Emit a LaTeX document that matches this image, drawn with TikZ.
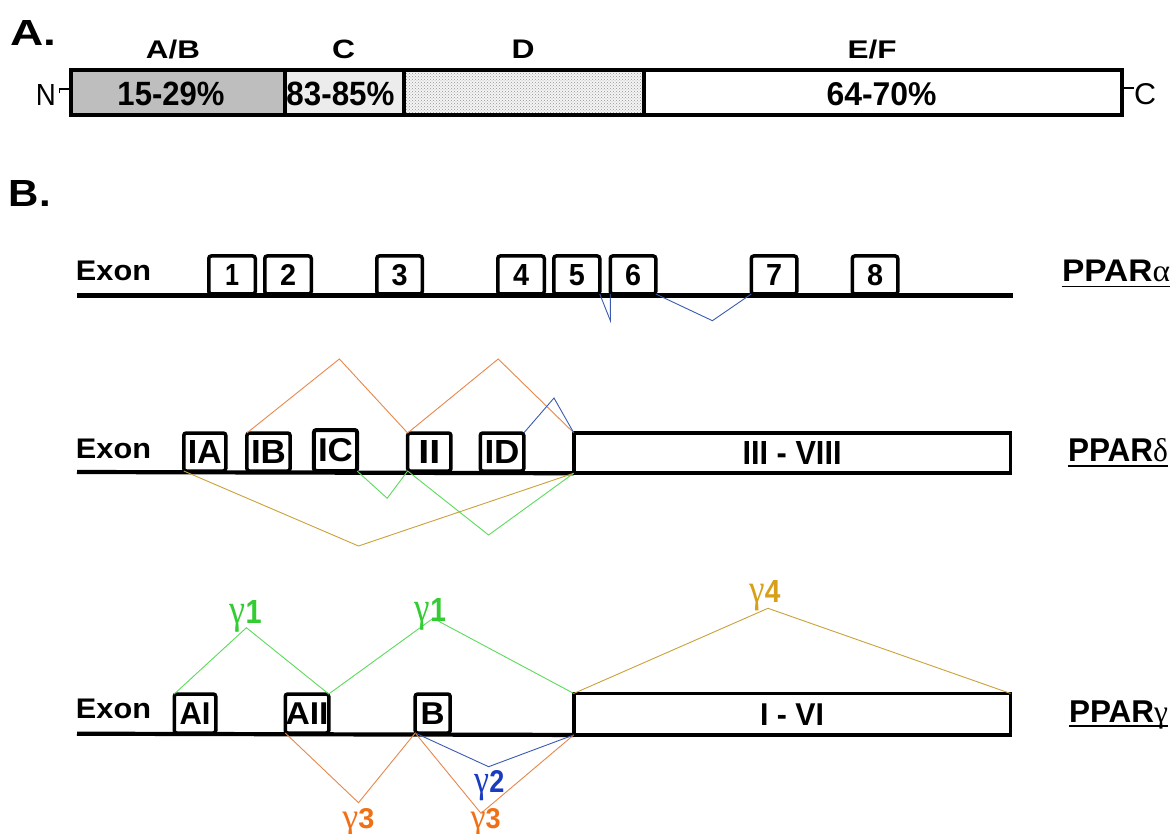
\documentclass[tikz,border=0pt]{standalone}
\usepackage{fontspec}
\setmainfont{Liberation Sans}
\newfontfamily\grk{Liberation Serif}
\usetikzlibrary{patterns}
\newcommand{\tx}[3]{\resizebox{#1pt}{#2pt}{\bfseries #3}}
\newcommand{\txr}[3]{\resizebox{#1pt}{#2pt}{#3}}
\newcommand{\gk}[1]{{\grk\mdseries #1}}
\newcommand{\bgk}[1]{\scalebox{1.25}{\grk\mdseries #1}}
\definecolor{abgray}{HTML}{BEBEBE}
\definecolor{cgray}{HTML}{ECECEC}
\definecolor{sorange}{HTML}{E8874A}
\definecolor{sgreen}{HTML}{5DDB5D}
\definecolor{sblue}{HTML}{3A5BB0}
\definecolor{sgold}{HTML}{C9A23A}
\definecolor{lgreen}{HTML}{33CC33}
\definecolor{lblue}{HTML}{1A3CC0}
\definecolor{lorange}{HTML}{F07015}
\definecolor{lgold}{HTML}{D8A018}
\begin{document}
\begin{tikzpicture}[x=1pt,y=-1pt,
  seg/.style={draw, line width=3.5pt, inner sep=0pt, outer sep=0pt},
  exonbox/.style={draw, line width=3.5pt, rounded corners=2.5pt, inner sep=0pt, outer sep=0pt, fill=white, minimum height=38pt},
  bigbox/.style={draw, line width=3.8pt, inner sep=0pt, outer sep=0pt, fill=white, minimum width=436.75pt},
  txt/.style={inner sep=0pt, outer sep=0pt, anchor=base},
  gene/.style={line width=4.2pt},
  splice/.style={line width=0.9pt, line join=miter},
  uline/.style={line width=1.6pt}]
\fill[white] (0,0) rectangle (1173,834);
\useasboundingbox (0,0) rectangle (1173,834);

% ---------- Part A ----------
\node[txt] (lblA) at (33,46) {\tx{46}{25}{A.}};
\node[seg, fill=abgray, minimum width=214.25pt, minimum height=45pt] (AB) at (177.9,92.75) {};
\node[seg, fill=cgray, minimum width=119pt, minimum height=45pt] (CC) at (344.5,92.75) {};
\node[seg, fill=gray!8, minimum width=240pt, minimum height=45pt] (DD) at (524,92.75) {};
\fill[pattern=crosshatch dots, pattern color=gray!85] (DD.north west) rectangle (DD.south east);
\node[seg, fill=white, minimum width=477.75pt, minimum height=45pt] (EF) at (882.9,92.75) {};
\draw[line width=3.5pt] (AB.north west) rectangle (EF.south east);
\draw[line width=3.5pt] (DD.north west) rectangle (DD.south east);
\draw[line width=2pt] ([yshift=-1pt]AB.south west) -- ([yshift=-1pt]EF.south east);
\node[txt] (tAB) at (173,59) {\tx{54}{18.5}{A/B}};
\node[txt] (tC) at (343.5,59) {\tx{23}{18.5}{C}};
\node[txt] (tD) at (523,59) {\tx{23}{18.5}{D}};
\node[txt] (tEF) at (872,59) {\tx{49}{18.5}{E/F}};
\node[txt] (pAB) at (171,106) {\tx{107}{23.5}{15-29\%}};
\node[txt] (pC) at (340.5,106) {\tx{108}{23.5}{83-85\%}};
\node[txt] (pEF) at (881.6,106) {\tx{110}{23}{64-70\%}};
\node[txt] (nN) at (46,106) {\txr{20}{21}{N}};
\node[txt] (nC) at (1145,105) {\txr{22}{21}{C}};
\coordinate (nt) at (59.5,93.5);
\coordinate (ns) at (59.5,89);
\draw[line width=1.3pt] (nt) -- (ns) -- (ns -| AB.west);
\coordinate (cs) at (1134,88);
\draw[line width=1.3pt] (cs -| EF.east) -- (cs);

% ---------- Part B ----------
\node[txt] (lblB) at (30,207) {\tx{42}{26}{B.}};

% PPAR alpha
\node[txt] (exA) at (113.5,281) {\tx{75}{19.5}{Exon}};
\coordinate (gaL) at (77,295.5);
\coordinate (gaR) at (1013,295.5);
\draw[gene] (gaL) -- (gaR);
\node[exonbox, minimum width=46.5pt] (E1) at (232,275) {\tx{14}{21}{1}};
\node[exonbox, minimum width=46.5pt] (E2) at (288,275) {\tx{16}{21}{2}};
\node[exonbox, minimum width=45.5pt] (E3) at (399.5,275) {\tx{16}{21}{3}};
\node[exonbox, minimum width=46.5pt] (E4) at (521,275) {\tx{16}{21}{4}};
\node[exonbox, minimum width=46pt] (E5) at (576.75,275) {\tx{16}{21}{5}};
\node[exonbox, minimum width=45.5pt] (E6) at (633,275) {\tx{16}{21}{6}};
\node[exonbox, minimum width=45.5pt] (E7) at (774,275) {\tx{16}{21}{7}};
\node[exonbox, minimum width=45.5pt] (E8) at (875,275) {\tx{16}{21}{8}};
\coordinate (va1) at (610.5,321);
\coordinate (va2) at (712.4,320.7);
\draw[splice, sblue] (E5.south east) -- (va1) -- (E6.south west);
\draw[splice, sblue] (E6.south east) -- (va2) -- (E7.south west);
\node[txt, anchor=base west] (pa) at (1062,282) {\tx{108}{21.5}{PPAR\gk{α}}};
\draw[uline] ([yshift=-4.5pt]pa.base west) -- ([yshift=-4.5pt]pa.base east);

% PPAR delta
\node[txt] (exD) at (113.5,458) {\tx{75}{19.5}{Exon}};
\coordinate (gdL) at (77,472);
\node[bigbox, minimum height=40.5pt] (D3) at (792.1,453) {\tx{99}{23}{III - VIII}};
\draw[gene] (gdL) -- (D3.south west);
\node[exonbox, minimum width=42pt] (IA) at (204.75,452) {\tx{34}{23}{IA}};
\node[exonbox, minimum width=43.2pt] (IB) at (268.5,452) {\tx{35}{23}{IB}};
\node[exonbox, minimum width=43.2pt, minimum height=41pt, line width=4pt] (IC) at (335.5,450.5) {\tx{35}{23}{IC}};
\node[exonbox, minimum width=43.3pt] (II) at (429.3,452) {\tx{22}{23}{II}};
\node[exonbox, minimum width=43.5pt] (ID) at (502,452) {\tx{35}{23}{ID}};
\coordinate (pd1) at (339.4,359);
\coordinate (pd2) at (498.2,359);
\coordinate (pd3) at (554,398);
\coordinate (vd1) at (387.2,498.3);
\coordinate (vd2) at (488.6,535);
\coordinate (vd3) at (358.5,546);
\draw[splice, sorange] (IB.north west) -- (pd1) -- (II.north west) -- (pd2) -- (D3.north west);
\draw[splice, sblue] (ID.north east) -- (pd3) -- (D3.north west);
\draw[splice, sgreen] (IC.south east) -- (vd1) -- (II.south west) -- (vd2) -- (D3.south west);
\draw[splice, sgold] (IA.south west) -- (vd3) -- (D3.south west);
\node[txt, anchor=base west] (pd) at (1068,461) {\tx{100}{23}{PPAR\gk{δ}}};
\draw[uline] ([yshift=-5pt]pd.base west) -- ([yshift=-5pt]pd.base east);

% PPAR gamma
\node[txt] (exG) at (113.5,718.5) {\tx{75}{19.5}{Exon}};
\coordinate (ggL) at (77,733.7);
\node[bigbox, minimum height=41.5pt] (G3) at (792.1,714.2) {\tx{64}{21.7}{I - VI}};
\draw[gene] (ggL) -- (G3.south west);
\node[exonbox, minimum width=41.5pt, minimum height=39pt] (AI) at (195,713.5) {\tx{31}{21.7}{AI}};
\node[exonbox, minimum width=43.5pt, minimum height=39pt] (AII) at (307,713.5) {\tx{43}{21.7}{AII}};
\node[exonbox, minimum width=35pt, minimum height=39pt] (BB) at (432.7,713.5) {\tx{24}{21.7}{B}};
\coordinate (pg1) at (246.4,627.7);
\coordinate (pg2) at (433.1,618.3);
\coordinate (pg4) at (768,608.3);
\coordinate (vg3a) at (358.5,802.7);
\coordinate (vg3b) at (481,813.3);
\coordinate (vg2) at (488.6,766.7);
\draw[splice, sgreen] (AI.north west) -- (pg1) -- (AII.north east) -- (pg2) -- (G3.north west);
\draw[splice, sgold] (G3.north west) -- (pg4) -- (G3.north east);
\draw[splice, sorange] (AII.south west) -- (vg3a) -- (BB.south west) -- (vg3b) -- (G3.south west);
\draw[splice, sblue] (BB.south west) -- (vg2) -- (G3.south west);
\node[txt, lgreen] (g1a) at (245.6,623) {\tx{32}{23}{\bgk{γ}1}};
\node[txt, lgreen] (g1b) at (430.3,621.7) {\tx{31}{23}{\bgk{γ}1}};
\node[txt, lgold] (g4) at (765,602) {\tx{31}{22}{\bgk{γ}4}};
\node[txt, lblue] (g2) at (489.5,792) {\tx{30}{22}{\bgk{γ}2}};
\node[txt, lorange] (g3a) at (358.5,828) {\tx{32}{20}{\bgk{γ}3}};
\node[txt, lorange] (g3b) at (485.7,828) {\tx{30}{20}{\bgk{γ}3}};
\node[txt, anchor=base west] (pg) at (1069,722) {\tx{99}{21.7}{PPAR\gk{γ}}};
\draw[uline] ([yshift=-3.8pt]pg.base west) -- ([yshift=-3.8pt]pg.base east);
\end{tikzpicture}
\end{document}
